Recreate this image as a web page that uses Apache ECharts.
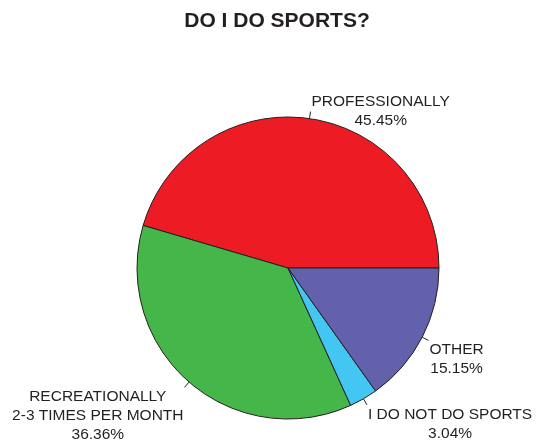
<!DOCTYPE html>
<html>
<head>
<meta charset="utf-8">
<script src="https://cdn.jsdelivr.net/npm/echarts@6/dist/echarts.min.js"></script>
<style>
  html, body { margin: 0; padding: 0; background: #fff; }
  #chart { width: 539px; height: 444px; }
</style>
</head>
<body>
<div id="chart"></div>
<script>
// answers and their shares (percent)
var categories = ["PROFESSIONALLY", "RECREATIONALLY\n2-3 TIMES PER MONTH", "I DO NOT DO SPORTS", "OTHER"];
var shares = [45.45, 36.36, 3.04, 15.15];
var sliceColors = ["#ED1C24", "#45B649", "#43C6F2", "#6361AC"];

var chart = echarts.init(document.getElementById("chart"));

var pieData = [];
for (var i = 0; i < categories.length; i++) {
    pieData.push({ name: categories[i], value: shares[i] });
}

chart.setOption({
    animation: false,
    backgroundColor: "#fff",
    color: sliceColors,
    title: {
        text: "DO I DO SPORTS?",
        left: 272,
        top: 6,
        textAlign: "center",
        textStyle: {
            fontFamily: "Liberation Sans",
            fontWeight: "bold",
            fontSize: 21,
            color: "#231F20"
        }
    },
    series: [{
        type: "pie",
        center: [288, 268],
        radius: 151,
        startAngle: 0,
        clockwise: false,
        avoidLabelOverlap: false,
        itemStyle: {
            borderColor: "#231F20",
            borderWidth: 1
        },
        label: {
            show: true,
            position: "outside",
            distanceToLabelLine: 1,
            fontFamily: "Liberation Sans",
            fontSize: 15.5,
            lineHeight: 19,
            color: "#231F20",
            formatter: function (p) {
                var lines = p.name.split("\n");
                lines.push(p.value.toFixed(2) + "%");
                return lines.map(function (s) { return "{c|" + s + "}"; }).join("\n");
            },
            rich: {
                c: {
                    align: "center",
                    fontFamily: "Liberation Sans",
                    fontSize: 15.5,
                    lineHeight: 19,
                    color: "#231F20"
                }
            }
        },
        labelLine: {
            show: true,
            length: 7,
            length2: 0,
            lineStyle: { color: "#231F20", width: 1 }
        },
        labelLayout: function (p) {
            // labels under the pie hang below their tick
            return p.dataIndex === 0 ? {} : { verticalAlign: "top" };
        },
        data: pieData
    }]
});
</script>
</body>
</html>
